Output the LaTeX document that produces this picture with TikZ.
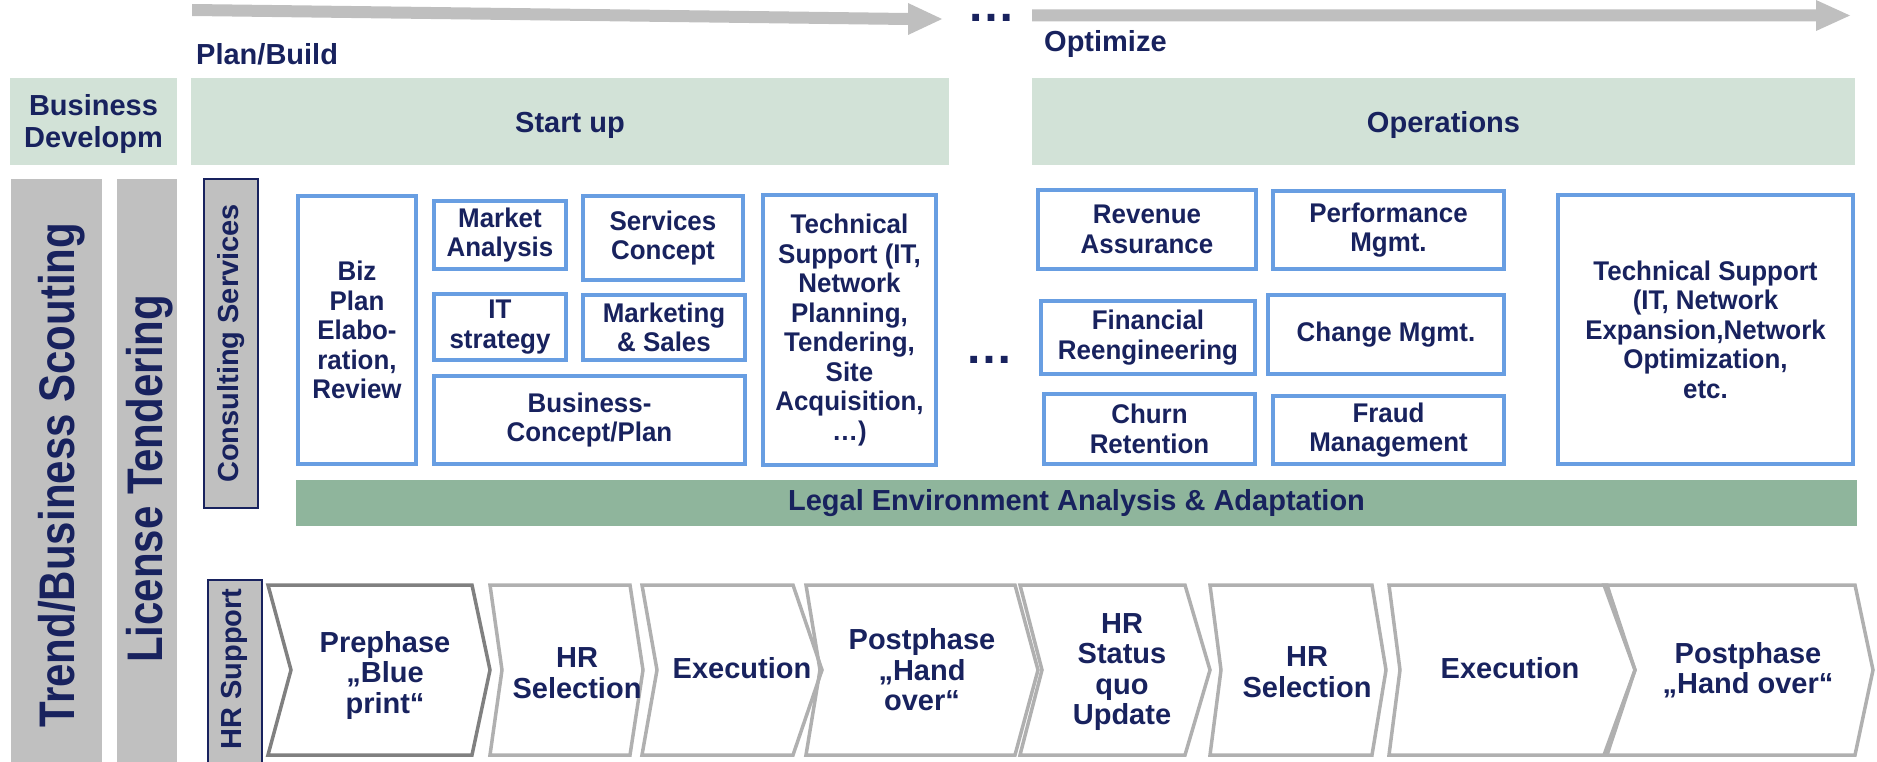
\documentclass[tikz,border=0pt]{standalone}
\usepackage{fontspec}
\setmainfont{Liberation Sans}
\newfontfamily\boxfont[FakeStretch=0.96]{Liberation Sans}
\newfontfamily\bigfont[FakeStretch=0.84]{Liberation Sans}
\definecolor{navy}{RGB}{24,34,94}
\definecolor{boxblue}{RGB}{104,158,226}
\definecolor{lightgreen}{RGB}{210,226,215}
\definecolor{legalgreen}{RGB}{143,181,156}
\definecolor{bargray}{RGB}{192,192,192}
\definecolor{arrowgray}{RGB}{191,191,191}
\definecolor{chevdark}{RGB}{128,128,128}
\definecolor{chevlight}{RGB}{176,176,176}
\newcommand\bbox[6]{\pgfmathsetmacro\mybw{#4-#2-4}\pgfmathsetmacro\mybh{#5-#3-4}%
  \node[bluebox, minimum width=\mybw pt, minimum height=\mybh pt] (#1) at ({(#2+#4)/2},{(#3+#5)/2}) {#6};}
\newcommand\gbox[6]{\pgfmathsetmacro\mybw{#4-#2}\pgfmathsetmacro\mybh{#5-#3}%
  \node[greenbox, minimum width=\mybw pt, minimum height=\mybh pt] (#1) at ({(#2+#4)/2},{(#3+#5)/2}) {};}
\newcommand\chevshape[8]{%
  \draw[#6] (#2,585) -- (#4,585) -- (#5,670) -- (#4,755) -- (#2,755) -- ({#2+#3},670) -- cycle;
  \node[chevtext] (#1) at #7 {#8};}
\begin{document}
\begin{tikzpicture}[x=1pt,y=-1pt,
  bluebox/.style={draw=boxblue, line width=4pt, fill=white, inner sep=0pt, align=center, text=navy, font=\boxfont\bfseries\fontsize{27}{29.5}\selectfont},
  greenbox/.style={fill=lightgreen, inner sep=0pt},
  greentext/.style={inner sep=0pt, align=center, text=navy, font=\bfseries\fontsize{29}{32}\selectfont},
  graybar/.style={fill=bargray, inner sep=0pt},
  sidetext/.style={text=navy, inner sep=0pt, rotate=90, font=\bigfont\bfseries\fontsize{50}{50}\selectfont},
  vlabel/.style={draw=navy, line width=2pt, fill=bargray, inner sep=0pt},
  vtext/.style={text=navy, inner sep=0pt, rotate=90, font=\bfseries\fontsize{29}{30}\selectfont},
  chevd/.style={draw=chevdark, line width=3.5pt, line join=miter},
  chevl/.style={draw=chevlight, line width=3.5pt, line join=miter},
  chevtext/.style={text=navy, align=center, inner sep=0pt, font=\bfseries\fontsize{29}{30.5}\selectfont},
  toplabel/.style={text=navy, inner sep=0pt, anchor=base west, font=\bfseries\fontsize{29}{30}\selectfont},
  dotstyle/.style={text=navy, inner sep=0pt, anchor=base, font=\bfseries\fontsize{48}{48}\selectfont}
]
\useasboundingbox (0,0) rectangle (1877,762);

% top arrows
\fill[arrowgray] (192,4) -- (908,13) -- (908,3) -- (942,19) -- (908,35) -- (908,25) -- (192,16) -- cycle;
\fill[arrowgray] (1032,9.5) -- (1816,9.5) -- (1816,0) -- (1850,15.5) -- (1816,31) -- (1816,21.5) -- (1032,21.5) -- cycle;
\node[dotstyle] (dotstop) at (991,22) {\smash{…}};
\node[toplabel] (plan) at (196,65) {Plan/Build};
\node[toplabel] (optim) at (1044,52) {Optimize};

% green header boxes
\gbox{busdev}{10}{78}{177}{165}{}
\node[greentext] (busdevt) at (93.5,124) {Business\\Developm};
\gbox{startup}{191}{78}{949}{165}{}
\node[greentext] (startupt) at (570,125) {Start up};
\gbox{operations}{1032}{78}{1855}{165}{}
\node[greentext] (operationst) at (1443.5,125) {Operations};

% side bars
\node[graybar, minimum width=91pt, minimum height=584pt] (trendbar) at (56.5,471) {};
\node[sidetext] (trend) at (62,475) {Trend/Business Scouting};
\node[graybar, minimum width=60pt, minimum height=584pt] (licbar) at (147,471) {};
\node[sidetext] (lic) at (150,479) {License Tendering};
\node[vlabel, minimum width=54pt, minimum height=329pt] (consult) at (231,343.5) {};
\node[vtext] (consultt) at (231,343.5) {Consulting Services};
\node[vlabel, minimum width=54pt, minimum height=195pt] (hrsup) at (234.5,677.5) {};
\node[vtext] (hrsupt) at (234.5,669) {HR Support};

% blue boxes - start up
\bbox{biz}{296}{194}{418}{466}{Biz\\Plan\\Elabo-\\ration,\\Review}
\bbox{market}{432}{199}{568}{271}{Market\\Analysis}
\bbox{services}{581}{194}{745}{282}{Services\\Concept}
\bbox{itstr}{432}{292}{568}{362}{IT\\strategy}
\bbox{mktsales}{581}{293}{747}{362}{Marketing\\\& Sales}
\bbox{bconcept}{432}{374}{747}{466}{Business-\\Concept/Plan}
\bbox{techL}{761}{193}{938}{467}{Technical\\Support (IT,\\Network\\Planning,\\Tendering,\\Site\\Acquisition,\\…)}
\node[dotstyle] (dotsmid) at (989,363) {\smash{…}};

% blue boxes - operations
\bbox{revenue}{1036}{188}{1258}{271}{Revenue\\Assurance}
\bbox{perf}{1271}{189}{1506}{271}{Performance\\Mgmt.}
\bbox{fin}{1039}{299}{1257}{376}{Financial\\Reengineering}
\bbox{change}{1266}{293}{1506}{376}{Change Mgmt.}
\bbox{churn}{1042}{392}{1257}{466}{Churn\\Retention}
\bbox{fraud}{1271}{394}{1506}{466}{Fraud\\Management}
\bbox{techR}{1556}{193}{1855}{466}{Technical Support\\(IT, Network\\Expansion,Network\\Optimization,\\etc.}

% legal bar
\node[fill=legalgreen, inner sep=0pt, minimum width=1561pt, minimum height=46pt, text=navy, font=\bfseries\fontsize{29}{30}\selectfont] (legal) at (1076.5,503) {Legal Environment Analysis \& Adaptation};

% chevrons
\chevshape{c1}{268}{23}{472}{490}{chevd}{(385,675)}{Prephase\\„Blue\\print“}
\chevshape{c2}{490}{12}{630}{643}{chevl}{(577,673)}{HR\\Selection}
\chevshape{c3}{642}{15}{793}{822}{chevl}{(742,668)}{Execution}
\chevshape{c4}{806}{14}{1015}{1038}{chevl}{(922,670)}{Postphase\\„Hand\\over“}
\chevshape{c5}{1020}{22}{1185}{1210}{chevl}{(1122,672)}{HR\\Status\\quo\\Update}
\chevshape{c6}{1210}{11}{1372}{1386}{chevl}{(1307,672)}{HR\\Selection}
\chevshape{c7}{1389}{11}{1607}{1635}{chevl}{(1510,668)}{Execution}
\chevshape{c8}{1604}{31}{1855}{1873}{chevl}{(1748,670)}{Postphase\\„Hand over“}
\end{tikzpicture}
\end{document}
